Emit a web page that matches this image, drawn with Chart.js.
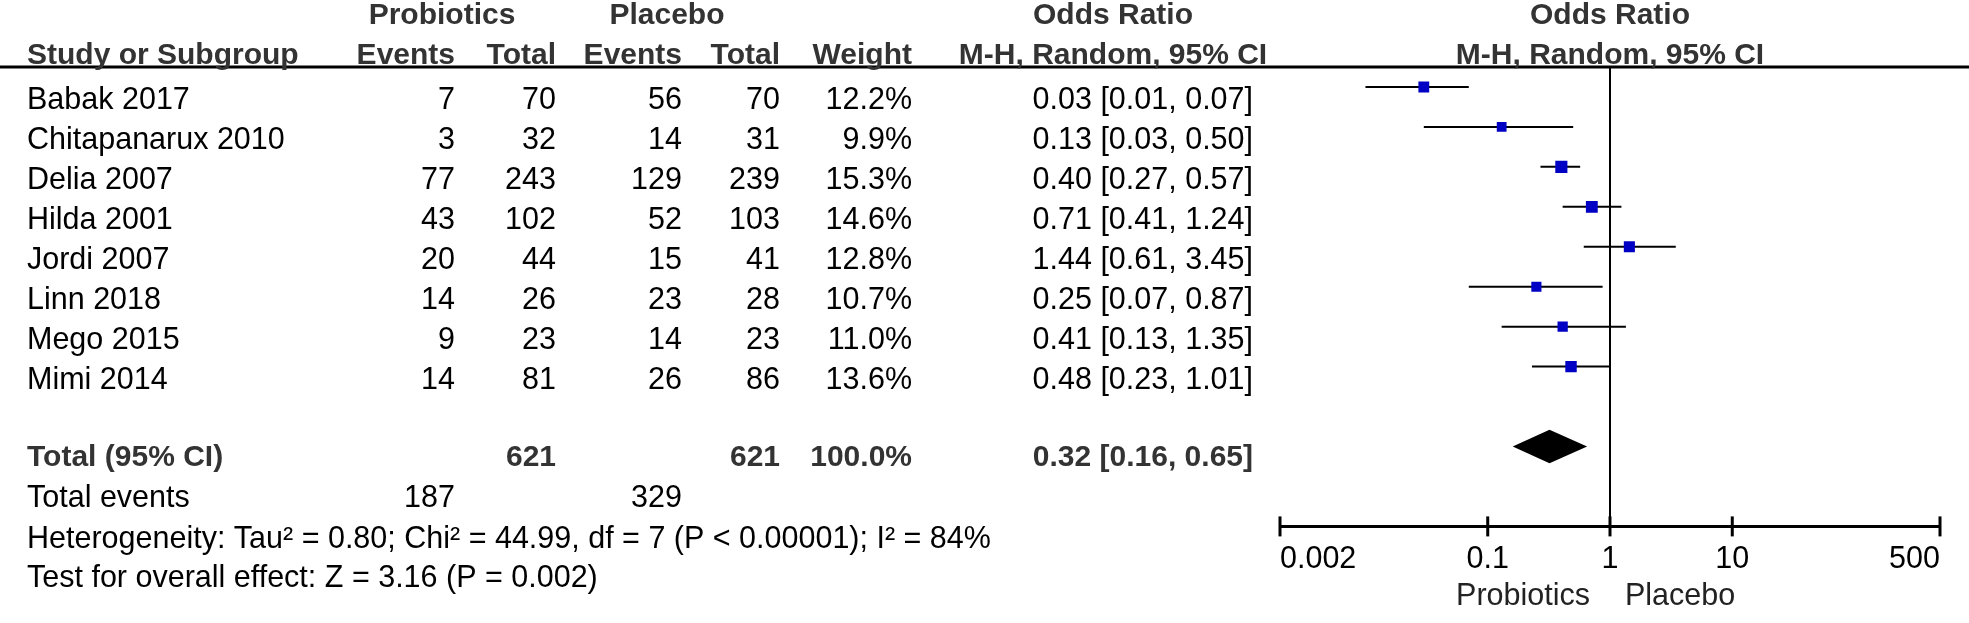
<!DOCTYPE html>
<html><head><meta charset="utf-8">
<script src="https://cdn.jsdelivr.net/npm/chart.js@4.4.1/dist/chart.umd.min.js"></script>
<style>html,body{margin:0;padding:0;background:#fff;overflow:hidden}canvas{display:block}</style>
</head><body>
<canvas id="c" width="1969" height="623"></canvas>
<script>
// ---- data ----
const studies = ['Babak 2017','Chitapanarux 2010','Delia 2007','Hilda 2001','Jordi 2007','Linn 2018','Mego 2015','Mimi 2014'];
const probEvents = [7, 3, 77, 43, 20, 14, 9, 14];
const probTotal  = [70, 32, 243, 102, 44, 26, 23, 81];
const placEvents = [56, 14, 129, 52, 15, 23, 14, 26];
const placTotal  = [70, 31, 239, 103, 41, 28, 23, 86];
const weights    = [12.2, 9.9, 15.3, 14.6, 12.8, 10.7, 11.0, 13.6];
const oddsRatio  = [0.03, 0.13, 0.40, 0.71, 1.44, 0.25, 0.41, 0.48];
const ciLow      = [0.01, 0.03, 0.27, 0.41, 0.61, 0.07, 0.13, 0.23];
const ciHigh     = [0.07, 0.50, 0.57, 1.24, 3.45, 0.87, 1.35, 1.01];
const totalN      = [621, 621];
const totalWeight = '100.0%';
const totalOR     = [0.32, 0.16, 0.65];
const totalEvents = [187, 329];
const heterogeneityText = 'Heterogeneity: Tau\u00B2 = 0.80; Chi\u00B2 = 44.99, df = 7 (P < 0.00001); I\u00B2 = 84%';
const overallText = 'Test for overall effect: Z = 3.16 (P = 0.002)';
const tickValues = [0.002, 0.1, 1, 10, 500];
const tickLabels = ['0.002', '0.1', '1', '10', '500'];
const favourLabels = ['Probiotics', 'Placebo'];

// ---- layout helpers ----
const FONT = '"Liberation Sans", Arial, Helvetica, sans-serif';
const NORMAL = '30.5px ' + FONT;
const BOLD = 'bold 30px ' + FONT;
const studyRows = studies.map((_, i) => i);
const totalRow = 9, eventsRow = 10, hetRow = 11, testRow = 12;
const colRight = {pe: 455, pt: 556, ce: 682, ct: 780, w: 912, or: 1253};
const fmtCI = (o, l, h) => o.toFixed(2) + ' [' + l.toFixed(2) + ', ' + h.toFixed(2) + ']';

const forestPlugin = {
  id: 'forest',
  beforeDatasetsDraw(chart) {
    const {ctx, chartArea, scales: {x, y}} = chart;
    ctx.save();
    ctx.strokeStyle = '#000';
    // header rule
    ctx.lineWidth = 3;
    ctx.beginPath(); ctx.moveTo(0, chartArea.top); ctx.lineTo(chart.width, chartArea.top); ctx.stroke();
    // line of no effect
    const x1 = x.getPixelForValue(1);
    ctx.lineWidth = 2;
    ctx.beginPath(); ctx.moveTo(x1, chartArea.top); ctx.lineTo(x1, chartArea.bottom); ctx.stroke();
    // confidence intervals
    studyRows.forEach(i => {
      const py = y.getPixelForValue(i);
      ctx.beginPath();
      ctx.moveTo(x.getPixelForValue(ciLow[i]), py);
      ctx.lineTo(x.getPixelForValue(ciHigh[i]), py);
      ctx.stroke();
    });
    ctx.restore();
  },
  afterDatasetsDraw(chart) {
    const {ctx, chartArea, scales: {x, y}} = chart;
    ctx.save();
    // pooled diamond
    const dy = y.getPixelForValue(totalRow);
    const dh = Math.abs(y.getPixelForValue(totalRow + 0.42) - dy);
    ctx.fillStyle = '#000';
    ctx.beginPath();
    ctx.moveTo(x.getPixelForValue(totalOR[1]), dy);
    ctx.lineTo(x.getPixelForValue(totalOR[0]), dy - dh);
    ctx.lineTo(x.getPixelForValue(totalOR[2]), dy);
    ctx.lineTo(x.getPixelForValue(totalOR[0]), dy + dh);
    ctx.closePath(); ctx.fill();
    // x axis line with ticks
    const ay = chartArea.bottom;
    ctx.strokeStyle = '#000'; ctx.lineWidth = 3;
    ctx.beginPath();
    ctx.moveTo(x.getPixelForValue(tickValues[0]), ay);
    ctx.lineTo(x.getPixelForValue(tickValues[tickValues.length - 1]), ay);
    ctx.stroke();
    tickValues.forEach(v => {
      const px = x.getPixelForValue(v);
      ctx.beginPath(); ctx.moveTo(px, ay - 10); ctx.lineTo(px, ay + 10); ctx.stroke();
    });
    // favours labels
    const x1 = x.getPixelForValue(1);
    ctx.fillStyle = '#222'; ctx.font = NORMAL; ctx.textBaseline = 'alphabetic';
    ctx.textAlign = 'right'; ctx.fillText(favourLabels[0], x1 - 20, ay + 79);
    ctx.textAlign = 'left'; ctx.fillText(favourLabels[1], x1 + 15, ay + 79);

    // ---- table text ----
    const base = r => y.getPixelForValue(r) + 22;
    const hTop = chartArea.top;
    const put = (txt, px, py, align, font, color) => {
      ctx.font = font; ctx.textAlign = align; ctx.fillStyle = color || '#000';
      ctx.fillText(String(txt), px, py);
    };
    const HC = '#333';
    // header row 1
    put('Probiotics', 442, hTop - 43, 'center', BOLD, HC);
    put('Placebo', 667, hTop - 43, 'center', BOLD, HC);
    put('Odds Ratio', 1113, hTop - 43, 'center', BOLD, HC);
    const cx = (chartArea.left + chartArea.right) / 2;
    put('Odds Ratio', cx, hTop - 43, 'center', BOLD, HC);
    // header row 2
    const h2 = hTop - 3;
    put('Study or Subgroup', 27, h2, 'left', BOLD, HC);
    put('Events', colRight.pe, h2, 'right', BOLD, HC);
    put('Total', colRight.pt, h2, 'right', BOLD, HC);
    put('Events', colRight.ce, h2, 'right', BOLD, HC);
    put('Total', colRight.ct, h2, 'right', BOLD, HC);
    put('Weight', colRight.w, h2, 'right', BOLD, HC);
    put('M-H, Random, 95% CI', 1113, h2, 'center', BOLD, HC);
    put('M-H, Random, 95% CI', cx, h2, 'center', BOLD, HC);
    // studies
    studyRows.forEach(i => {
      const by = base(i);
      put(studies[i], 27, by, 'left', NORMAL);
      put(probEvents[i], colRight.pe, by, 'right', NORMAL);
      put(probTotal[i], colRight.pt, by, 'right', NORMAL);
      put(placEvents[i], colRight.ce, by, 'right', NORMAL);
      put(placTotal[i], colRight.ct, by, 'right', NORMAL);
      put(weights[i].toFixed(1) + '%', colRight.w, by, 'right', NORMAL);
      put(fmtCI(oddsRatio[i], ciLow[i], ciHigh[i]), colRight.or, by, 'right', NORMAL);
    });
    // total
    const tb = base(totalRow) - 3;
    put('Total (95% CI)', 27, tb, 'left', BOLD, HC);
    put(totalN[0], colRight.pt, tb, 'right', BOLD, HC);
    put(totalN[1], colRight.ct, tb, 'right', BOLD, HC);
    put(totalWeight, colRight.w, tb, 'right', BOLD, HC);
    put(fmtCI(totalOR[0], totalOR[1], totalOR[2]), colRight.or, tb, 'right', BOLD, HC);
    const eb = base(eventsRow) - 1;
    put('Total events', 27, eb, 'left', NORMAL);
    put(totalEvents[0], colRight.pe, eb, 'right', NORMAL);
    put(totalEvents[1], colRight.ce, eb, 'right', NORMAL);
    put(heterogeneityText, 27, base(hetRow), 'left', NORMAL);
    put(overallText, 27, base(testRow) - 1, 'left', NORMAL);
    ctx.restore();
  }
};

const squareRadius = w => 3.1 * Math.sqrt(w) / (2 * Math.SQRT1_2);

new Chart(document.getElementById('c'), {
  type: 'scatter',
  data: {
    datasets: [{
      data: studyRows.map(i => ({x: oddsRatio[i], y: i})),
      pointStyle: 'rect',
      pointRadius: weights.map(squareRadius),
      pointHoverRadius: weights.map(squareRadius),
      backgroundColor: '#0000c4',
      borderColor: '#0000c4',
      borderWidth: 0
    }]
  },
  options: {
    responsive: false,
    animation: false,
    devicePixelRatio: 1,
    events: [],
    layout: {padding: {left: 1280, right: 29, top: 67, bottom: 30}},
    plugins: {legend: {display: false}, tooltip: {enabled: false}},
    scales: {
      x: {
        type: 'logarithmic',
        min: tickValues[0],
        max: tickValues[tickValues.length - 1],
        afterBuildTicks: s => { s.ticks = tickValues.map(v => ({value: v})); },
        grid: {display: false, drawTicks: false},
        border: {display: false},
        ticks: {
          autoSkip: false, maxRotation: 0, align: 'inner', padding: 15,
          color: '#000', font: {family: FONT, size: 30.5},
          callback: (v) => { const k = tickValues.indexOf(v); return k >= 0 ? tickLabels[k] : ''; }
        }
      },
      y: {type: 'linear', min: -0.5, max: 11, reverse: true, display: false}
    }
  },
  plugins: [forestPlugin]
});
</script>
</body></html>
